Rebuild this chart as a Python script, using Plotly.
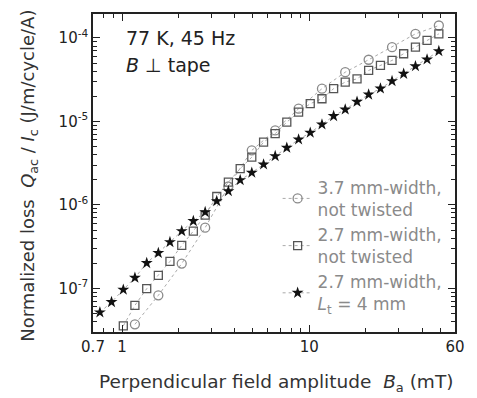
import plotly.graph_objects as go

# Field amplitude grid (mT)
B_star = [0.762, 0.879, 1.016, 1.172, 1.355, 1.563, 1.803, 2.084, 2.404, 2.780,
          3.206, 3.698, 4.276, 4.932, 5.702, 6.577, 7.586, 8.770, 10.12, 11.69,
          13.49, 15.56, 17.99, 20.75, 23.99, 27.67, 31.92, 36.90, 42.56, 49.20]
Q_star = [5.16e-8, 6.85e-8, 9.64e-8, 1.34e-7, 2.01e-7, 2.65e-7, 3.58e-7, 4.85e-7, 6.40e-7, 8.20e-7,
          1.11e-6, 1.46e-6, 1.98e-6, 2.43e-6, 3.05e-6, 3.84e-6, 4.84e-6, 6.08e-6, 7.33e-6, 9.20e-6,
          1.16e-5, 1.39e-5, 1.72e-5, 2.10e-5, 2.48e-5, 3.04e-5, 3.72e-5, 4.59e-5, 5.53e-5, 6.95e-5]

B_sq = [1.016, 1.172, 1.355, 1.563, 1.803, 2.084, 2.404, 2.780,
        3.206, 3.698, 4.276, 4.932, 5.702, 6.577, 7.586, 8.770, 10.12, 11.69,
        13.49, 15.56, 17.99, 20.75, 23.99, 27.67, 31.92, 36.90, 42.56, 49.20]
Q_sq = [3.55e-8, 6.25e-8, 9.9e-8, 1.43e-7, 2.10e-7, 3.27e-7, 4.85e-7, 7.55e-7,
        1.26e-6, 1.87e-6, 2.72e-6, 3.73e-6, 5.65e-6, 7.13e-6, 9.82e-6, 1.29e-5, 1.63e-5, 1.87e-5,
        2.47e-5, 2.96e-5, 3.24e-5, 4.08e-5, 4.69e-5, 5.38e-5, 6.47e-5, 7.76e-5, 9.33e-5, 1.12e-4]

B_circ = [1.172, 1.563, 2.084, 2.780, 3.698, 4.932, 6.577, 8.770, 11.69, 15.56, 20.75, 27.67, 36.90, 49.20]
Q_circ = [3.71e-8, 8.24e-8, 1.98e-7, 5.33e-7, 1.66e-6, 4.50e-6, 7.80e-6, 1.42e-5, 2.47e-5, 3.89e-5,
          5.48e-5, 7.76e-5, 1.12e-4, 1.41e-4]

x_ticks = [0.7, 1, 10, 60]
x_ticktext = ["0.7", "1", "10", "60"]
x_minor = [0.8, 0.9, 2, 3, 4, 5, 6, 7, 8, 9, 20, 30, 40, 50]
y_ticks = [1e-7, 1e-6, 1e-5, 1e-4]
y_ticktext = ["10<sup>-7</sup>", "10<sup>-6</sup>", "10<sup>-5</sup>", "10<sup>-4</sup>"]
y_minor = [m * 10.0 ** e for e in range(-8, -3) for m in range(2, 10)]

FONT = "DejaVu Sans"
fig = go.Figure()
fig.add_trace(go.Scatter(
    x=B_circ, y=Q_circ, mode="lines+markers",
    name="3.7 mm-width,<br>not twisted",
    line=dict(color="#aaaaaa", width=1, dash="dot"),
    marker=dict(symbol="circle-open", size=9, color="#8a8a8a", line=dict(width=1.3)),
))
fig.add_trace(go.Scatter(
    x=B_sq, y=Q_sq, mode="lines+markers",
    name="2.7 mm-width,<br>not twisted",
    line=dict(color="#aaaaaa", width=1, dash="dot"),
    marker=dict(symbol="square-open", size=8, color="#555555", line=dict(width=1.3)),
))
fig.add_trace(go.Scatter(
    x=B_star, y=Q_star, mode="lines+markers",
    name="2.7 mm-width,<br><i>L</i><sub>t</sub> = 4 mm",
    line=dict(color="#aaaaaa", width=1, dash="dot"),
    marker=dict(symbol="star", size=9, color="#111111"),
))

axis_common = dict(
    showline=True, linecolor="#222222", linewidth=1.6, mirror="ticks",
    ticks="inside", ticklen=7, tickwidth=1.2, tickcolor="#222222",
    showgrid=False, zeroline=False,
    tickfont=dict(family=FONT, size=15, color="#222222"),
)
fig.update_xaxes(type="log", range=[-0.1549, 1.7782], tickvals=x_ticks, ticktext=x_ticktext,
                 minor=dict(tickvals=x_minor, ticks="inside", ticklen=4, tickcolor="#222222", showgrid=False),
                 **axis_common)
fig.update_yaxes(type="log", range=[-7.523, -3.713], tickvals=y_ticks, ticktext=y_ticktext,
                 minor=dict(tickvals=y_minor, ticks="inside", ticklen=4, tickcolor="#222222", showgrid=False),
                 **axis_common)

fig.add_annotation(x=0.085, y=0.925, xref="paper", yref="paper", xanchor="left", yanchor="middle",
                   text="77 K, 45 Hz", showarrow=False,
                   font=dict(family=FONT, size=19, color="#222222"))
fig.add_annotation(x=0.085, y=0.84, xref="paper", yref="paper", xanchor="left", yanchor="middle",
                   text="<i>B</i> ⊥ tape", showarrow=False,
                   font=dict(family=FONT, size=19, color="#222222"))
fig.add_annotation(x=0.505, y=-0.16, xref="paper", yref="paper", xanchor="center", yanchor="middle",
                   text="Perpendicular field amplitude  <i>B</i><sub>a</sub> (mT)", showarrow=False,
                   font=dict(family=FONT, size=18.5, color="#333333"))
fig.add_annotation(x=-0.175, y=0.49, xref="paper", yref="paper", xanchor="center", yanchor="middle",
                   text="Normalized loss  <i>Q</i><sub>ac</sub> / <i>I</i><sub>c</sub> (J/m/cycle/A)",
                   textangle=-90, showarrow=False,
                   font=dict(family=FONT, size=18, color="#333333"))

fig.update_layout(
    width=477, height=398,
    margin=dict(l=93, r=14, t=14, b=66),
    plot_bgcolor="white", paper_bgcolor="white",
    showlegend=True,
    legend=dict(x=0.51, y=0.51, xanchor="left", yanchor="top",
                bgcolor="rgba(0,0,0,0)", borderwidth=0,
                font=dict(family=FONT, size=17, color="#8a8a8a"),
                itemwidth=30, tracegroupgap=0),
)
fig.write_html("out.html")
